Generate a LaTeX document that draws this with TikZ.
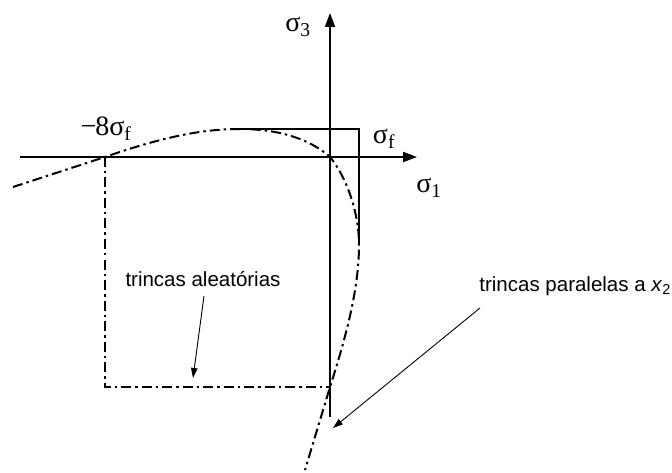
\documentclass[tikz,border=0pt]{standalone}
\usepackage{fontspec}
\setmainfont{Liberation Serif}
\newfontfamily\labfont{Liberation Sans}
\usetikzlibrary{arrows.meta}
\tikzset{
  thickline/.style={line width=2pt},
  dashdot/.style={line width=2pt, dash pattern=on 10pt off 4pt on 2.5pt off 4pt},
  axis/.style={line width=2pt, -{Triangle[length=14pt,width=10pt]}},
  pointer/.style={line width=0.9pt, -{Triangle[length=10pt,width=6.5pt]}},
  sig/.style={font=\fontsize{28}{32}\selectfont, inner sep=0pt},
  lab/.style={font=\labfont\fontsize{20.5}{24}\selectfont, inner sep=0pt}
}
\begin{document}
\begin{tikzpicture}[x=1pt,y=-1pt]
\useasboundingbox (0,0) rectangle (672,473);
% key points
\coordinate (O) at (330,157);
\coordinate (hL) at (20,157);
\coordinate (hR) at (417,157);
\coordinate (vB) at (330,417);
\coordinate (vT) at (330,13);
\coordinate (peak) at (240,129);
\coordinate (tr) at (359,129);
\coordinate (tang) at (359,245);
\coordinate (m8) at (105,157);
\coordinate (bl) at (105,387);
\coordinate (br) at (330,387);
\coordinate (cs) at (13,187);
\coordinate (ce) at (305,470);
% axes
\draw[axis] (hL) -- (hR);
\draw[axis] (vB) -- (vT);
% solid rectangle (sigma_f)
\draw[thickline] (peak) -- (tr) -- (tang);
% dash-dot rectangle
\draw[dashdot] (m8) -- (bl) -- (br);
% curve
\draw[dashdot] (cs) -- (m8) .. controls (160,138) and (200,129) .. (peak)
  .. controls (283,129) and (312,141) .. (O)
  .. controls (345,175) and (359,210) .. (tang)
  .. controls (359,290) and (345,340) .. (br) -- (ce);
% labels
\node[sig] (s3) at (298,27) {σ\textsubscript{3}};
\node[sig] (s1) at (429,188) {σ\textsubscript{1}};
\node[sig] (sf) at (384,139) {σ\textsubscript{f}};
\node[sig] (m8l) at (106,129) {−\kern-1pt8σ\textsubscript{f}};
\node[lab] (ta) at (203,279) {trincas aleatórias};
\node[lab, anchor=east] (tp) at (671,286) {trincas paralelas a \textit{x}\textsubscript{2}};
% pointers
\coordinate (a1s) at (204,296);
\coordinate (a1e) at (193,378);
\coordinate (a2s) at (480,308);
\coordinate (a2e) at (333,428);
\draw[pointer] (a1s) -- (a1e);
\draw[pointer] (a2s) -- (a2e);
\end{tikzpicture}
\end{document}
